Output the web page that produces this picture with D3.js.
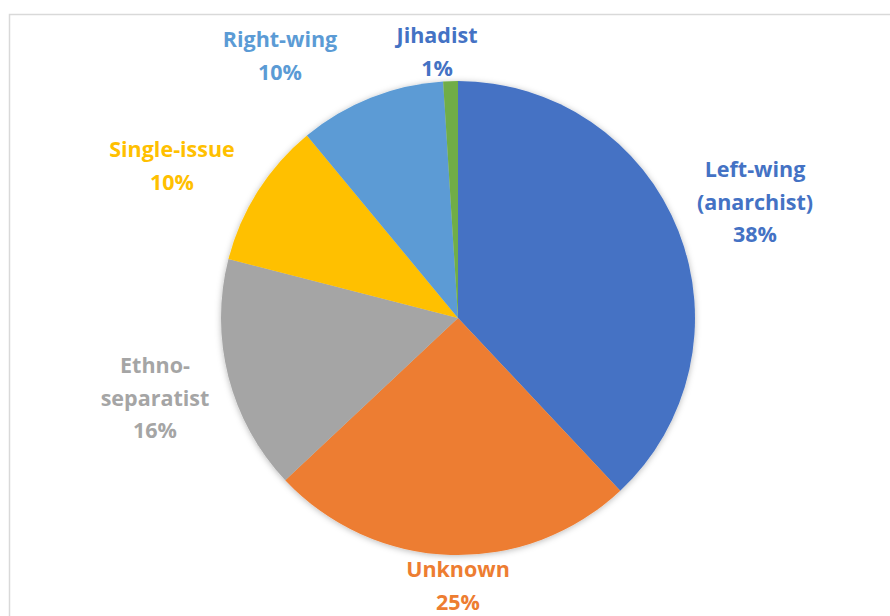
<!DOCTYPE html>
<html>
<head>
<meta charset="utf-8">
<script src="https://cdn.jsdelivr.net/npm/d3@7"></script>
<style>
  html, body { margin: 0; padding: 0; background: #ffffff; }
  svg { display: block; }
</style>
</head>
<body>
<svg id="chart" width="890" height="616"></svg>
<script>
// Share of attacks by ideology (percent)
const categories = ["Left-wing (anarchist)", "Unknown", "Ethno-separatist", "Single-issue", "Right-wing", "Jihadist"];
const values = [38, 25, 16, 10, 10, 1];
const colors = ["#4472C4", "#ED7D31", "#A5A5A5", "#FFC000", "#5B9BD5", "#70AD47"];
const labelColors = ["#4472C4", "#ED7D31", "#A5A5A5", "#FFC000", "#5B9BD5", "#4472C4"];
// Label text split into lines
const labelLines = [["Left-wing", "(anarchist)"], ["Unknown"], ["Ethno-", "separatist"], ["Single-issue"], ["Right-wing"], ["Jihadist"]];

const svg = d3.select("#chart");
const W = 890, H = 616;
const cx = 458, cy = 318, R = 237;

// chart frame
svg.append("rect")
  .attr("x", 9.5).attr("y", 14.5)
  .attr("width", W + 20).attr("height", H + 20)
  .attr("fill", "#ffffff")
  .attr("stroke", "#d9d9d9").attr("stroke-width", 1.5);

const defs = svg.append("defs");
const f = defs.append("filter").attr("id", "pieShadow")
  .attr("x", "-10%").attr("y", "-10%").attr("width", "120%").attr("height", "120%");
f.append("feDropShadow").attr("dx", 0).attr("dy", 1).attr("stdDeviation", 3)
  .attr("flood-color", "#000").attr("flood-opacity", 0.28);

const data = categories.map((c, i) => ({
  name: c, value: values[i], color: colors[i], labelColor: labelColors[i], lines: labelLines[i]
}));

const pie = d3.pie().value(d => d.value).sort(null);
const arc = d3.arc().innerRadius(0).outerRadius(R);
const arcs = pie(data);

const g = svg.append("g").attr("transform", `translate(${cx},${cy})`);
const slices = g.append("g").attr("filter", "url(#pieShadow)");
slices.selectAll("path").data(arcs).join("path")
  .attr("d", arc)
  .attr("fill", d => d.data.color);

// label placement: centre of each text block relative to the pie centre
const labelCenter = {
  "Left-wing (anarchist)": [297, -116],
  "Unknown": [0, 268],
  "Ethno-separatist": [-303, 80],
  "Single-issue": [-286, -152],
  "Right-wing": [-178, -262],
  "Jihadist": [-21, -266]
};

const lineH = 32.5;
const labels = g.append("g")
  .style("font-family", "'Open Sans', Lato, sans-serif")
  .style("font-weight", "bold")
  .style("font-size", "21.5px");

arcs.forEach(a => {
  const d = a.data;
  const lines = d.lines.concat([d3.format(".0f")(d.value) + "%"]);
  const [lx, ly] = labelCenter[d.name];
  const t = labels.append("text")
    .attr("text-anchor", "middle")
    .attr("fill", d.labelColor);
  const y0 = ly - (lines.length - 1) * lineH / 2 + 7.5;
  lines.forEach((s, i) => {
    t.append("tspan").attr("x", lx).attr("y", y0 + i * lineH).text(s);
  });
});
</script>
</body>
</html>
